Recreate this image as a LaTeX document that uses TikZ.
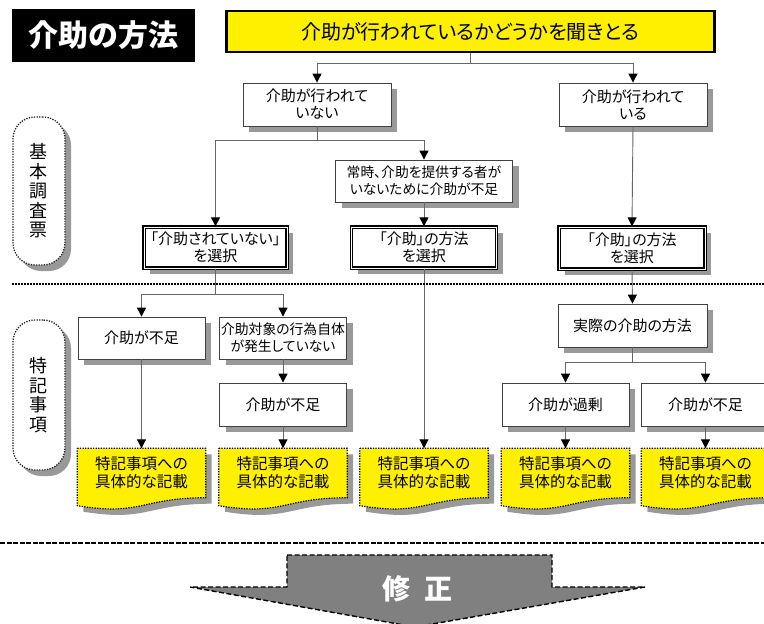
\documentclass[tikz,border=0pt]{standalone}
\usepackage{fontspec}
\setmainfont[RawFeature=+palt]{Noto Sans CJK JP}
\usetikzlibrary{arrows.meta,shadows,backgrounds,calc}
\definecolor{markyellow}{HTML}{FFF000}
\definecolor{arrowgray}{HTML}{808080}
% outline of a document sheet with a wavy foot
\newcommand{\docoutline}[1]{(#1.north west) -- (#1.north east) -- (#1.south east)
  .. controls (#1.south) and ($(#1.south)+(0,18.5)$) .. ($(#1.south west)+(0,8)$) -- cycle}

\begin{document}
\begin{tikzpicture}
[x=1pt, y=-1pt,
every node/.style={inner sep=0pt, align=center},
link/.style={draw=black!60, line width=0.9pt, -{Triangle[width=9pt,length=9pt,color=black,fill=black]}},
boxshadow/.style={drop shadow={shadow xshift=6pt, shadow yshift=-6pt, opacity=1, fill=black!40}},
box/.style={draw=black!75, line width=0.8pt, fill=white, boxshadow, minimum width=127pt, minimum height=42pt, font=\fontsize{15}{17}\selectfont},
dense/.style={font=\fontsize{13.8}{17}\selectfont},
choicebox/.style={box, draw=black, line width=1.3pt, double=white, double distance=0.7pt},
sidebox/.style={draw=black!85, line width=1.3pt, dash pattern=on 1.3pt off 1.3pt, rounded corners=22pt, fill=white, boxshadow, minimum width=52pt, minimum height=148pt, font=\fontsize{18}{19.5}\selectfont},
docbox/.style={minimum width=128pt, minimum height=49pt, font=\fontsize{15.5}{18}\selectfont}
]
  \useasboundingbox (0,0) rectangle (764,624);

  \node[fill=black, text=white, minimum width=183pt, minimum height=53pt, font=\fontsize{30}{30}\selectfont\bfseries] (title) at (103.5,35.5) {介助の方法};
  \node[draw=black, line width=2.5pt, fill=markyellow, minimum width=488pt, minimum height=41pt, font=\fontsize{20}{22}\selectfont] (ask) at (470.5,31.5) {介助が行われているかどうかを聞きとる};

  \node[box, minimum width=148pt, minimum height=43pt] (notdone) at (317,104.5) {介助が行われて\\いない};
  \node[box, minimum width=148pt, minimum height=43pt] (done) at (633,104.5) {介助が行われて\\いる};
  \node[box, dense, minimum width=177pt] (always) at (424,181) {常時、介助を提供する者が\\いないために介助が不足};
  \node[choicebox, minimum width=143pt, minimum height=41pt] (selnone) at (215.5,247.5) {「介助されていない」\\を選択};
  \node[choicebox, minimum width=145pt, minimum height=41pt] (selmid) at (424,247.5) {「介助」の方法\\を選択};
  \node[choicebox, minimum width=146pt, minimum height=42pt] (seldone) at (632,248) {「介助」の方法\\を選択};

  \node[sidebox] (survey) at (39,191) {基\\本\\調\\査\\票};
  \node[sidebox, minimum height=150pt] (notes) at (39,395) {特\\記\\事\\項};

  \node[box] (lackA) at (141.5,338) {介助が不足};
  \node[box, dense] (nothappen) at (283,338) {介助対象の行為自体\\が発生していない};
  \node[box, minimum height=43pt] (lackB) at (283,404.5) {介助が不足};
  \node[box, minimum width=149pt, minimum height=43pt] (actual) at (632.5,325.5) {実際の介助の方法};
  \node[box, minimum height=43pt] (excess) at (565.5,404.5) {介助が過剰};
  \node[box, minimum width=129pt, minimum height=43pt] (lackC) at (705.5,404.5) {介助が不足};

  \foreach \n/\x in {1/141.5, 2/283, 3/424, 4/565.5, 5/705.5}
    \node[docbox] (doc\n) at (\x,473) {特記事項への\\具体的な記載};

  \begin{scope}[on background layer]
    \foreach \n in {1,...,5} {
      \fill[black!40, transform canvas={shift={(6pt,-6pt)}}] \docoutline{doc\n};
      \filldraw[fill=markyellow, draw=black, line width=1.2pt, dash pattern=on 1.3pt off 1.3pt] \docoutline{doc\n};
    }
  \end{scope}

  \draw[link] (ask.south) -- ++(0,10) -| (notdone.north);
  \draw[link] (ask.south) -- ++(0,10) -| (done.north);
  \draw[link] (notdone.south) -- ++(0,14) -| (selnone.north);
  \draw[link] (notdone.south) -- ++(0,14) -| (always.north);
  \draw[link] (always.south) -- (selmid.north);
  \draw[link] (done.south) -- (seldone.north);
  \draw[link] (selnone.south) -- ++(0,26) -| (lackA.north);
  \draw[link] (selnone.south) -- ++(0,26) -| (nothappen.north);
  \draw[link] (nothappen.south) -- (lackB.north);
  \draw[link] (lackA.south) -- (doc1.north);
  \draw[link] (lackB.south) -- (doc2.north);
  \draw[link] (selmid.south) -- (doc3.north);
  \draw[link] (seldone.south) -- (actual.north);
  \draw[link] (actual.south) -- ++(0,15) -| (excess.north);
  \draw[link] (actual.south) -- ++(0,15) -| (lackC.north);
  \draw[link] (excess.south) -- (doc4.north);
  \draw[link] (lackC.south) -- (doc5.north);

  % separators
  \draw[line width=1.5pt, dash pattern=on 1.5pt off 1.5pt] (12,284) -- (764,284);
  \draw[line width=2pt, dash pattern=on 5pt off 1.5pt] (0,543) -- (764,543);

  % big arrow
  \filldraw[fill=arrowgray, draw=black, line width=1.4pt, dash pattern=on 5pt off 2.5pt] (287,555) -- (552,555) -- (552,587) -- (645,587) -- (415,627) -- (190,587) -- (287,587) -- cycle;
  \node[text=white, font=\fontsize{28}{28}\selectfont\bfseries] (fix) at (417,589) {修\hspace{14pt}正};
\end{tikzpicture}
\end{document}
